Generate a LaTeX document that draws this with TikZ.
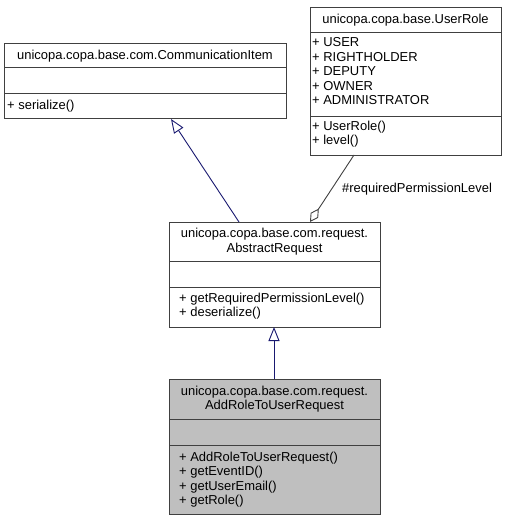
\documentclass[tikz,border=0pt]{standalone}
\usepackage{fontspec}
\setmainfont{Liberation Sans}
\usetikzlibrary{arrows.meta}
\definecolor{edgegrey}{HTML}{404040}
\definecolor{genblue}{RGB}{25,25,112}
\definecolor{selfill}{HTML}{BFBFBF}
\begin{document}
\begin{tikzpicture}[x=1bp,y=-1bp,
  box/.style={draw=edgegrey, line width=1bp, fill=white, inner sep=0pt, anchor=north west},
  selbox/.style={box, fill=selfill},
  div/.style={draw=edgegrey, line width=1bp},
  txt/.style={inner sep=0pt, font=\fontsize{13}{14.5}\selectfont, text=black},
  gen/.style={draw=genblue, line width=0.9bp, -{Triangle[open, length=14bp, width=11bp]}},
  agg/.style={draw=edgegrey, line width=0.9bp, {Diamond[open, length=16bp, width=9bp]}-}]
\useasboundingbox (0,0) rectangle (505,520);

% CommunicationItem
\node[box, minimum width=282bp, minimum height=75bp] (ci) at (4,43) {};
\draw[div] (4,68) -- (286,68);
\draw[div] (4,94) -- (286,94);
\node[txt, anchor=base] (ciT) at (145,60) {unicopa.copa.base.com.CommunicationItem};
\node[txt, anchor=base west] (ciM1) at (7,110) {+ serialize()};

% UserRole
\node[box, minimum width=191bp, minimum height=148bp] (ur) at (310,7) {};
\draw[div] (310,33) -- (501,33);
\draw[div] (310,117) -- (501,117);
\node[txt, anchor=base] (urT) at (405.5,24) {unicopa.copa.base.UserRole};
\node[txt, anchor=base west] (urA1) at (312,47) {+ USER};
\node[txt, anchor=base west] (urA2) at (312,61.5) {+ RIGHTHOLDER};
\node[txt, anchor=base west] (urA3) at (312,76) {+ DEPUTY};
\node[txt, anchor=base west] (urA4) at (312,90.5) {+ OWNER};
\node[txt, anchor=base west] (urA5) at (312,105) {+ ADMINISTRATOR};
\node[txt, anchor=base west] (urM1) at (312,130.5) {+ UserRole()};
\node[txt, anchor=base west] (urM2) at (312,145) {+ level()};

% AbstractRequest
\node[box, minimum width=211bp, minimum height=105bp] (ar) at (169,222) {};
\draw[div] (169,261) -- (380,261);
\draw[div] (169,287) -- (380,287);
\node[txt, anchor=base] (arT1) at (274.5,237.5) {unicopa.copa.base.com.request.};
\node[txt, anchor=base] (arT2) at (274.5,252) {AbstractRequest};
\node[txt, anchor=base west] (arM1) at (179,302) {+ getRequiredPermissionLevel()};
\node[txt, anchor=base west] (arM2) at (179,316.5) {+ deserialize()};

% AddRoleToUserRequest
\node[selbox, minimum width=211bp, minimum height=135bp] (ad) at (169,379) {};
\draw[div] (169,419) -- (380,419);
\draw[div] (169,445) -- (380,445);
\node[txt, anchor=base] (adT1) at (274.5,395) {unicopa.copa.base.com.request.};
\node[txt, anchor=base] (adT2) at (274.5,409.5) {AddRoleToUserRequest};
\node[txt, anchor=base west] (adM1) at (179,461) {+ AddRoleToUserRequest()};
\node[txt, anchor=base west] (adM2) at (179,475.5) {+ getEventID()};
\node[txt, anchor=base west] (adM3) at (179,490) {+ getUserEmail()};
\node[txt, anchor=base west] (adM4) at (179,504.5) {+ getRole()};

% connectors
\coordinate (g1s) at (239,222);
\coordinate (g1e) at (171,119);
\draw[gen] (g1s) -- (g1e);
\coordinate (g2s) at (274,379);
\coordinate (g2e) at (274,327);
\draw[gen] (g2s) -- (g2e);
\coordinate (a1) at (310,222);
\coordinate (a2) at (354,155);
\draw[agg] (a1) -- (a2);
\node[txt, anchor=base west] (lbl) at (342,193) {\#requiredPermissionLevel};
\end{tikzpicture}
\end{document}
